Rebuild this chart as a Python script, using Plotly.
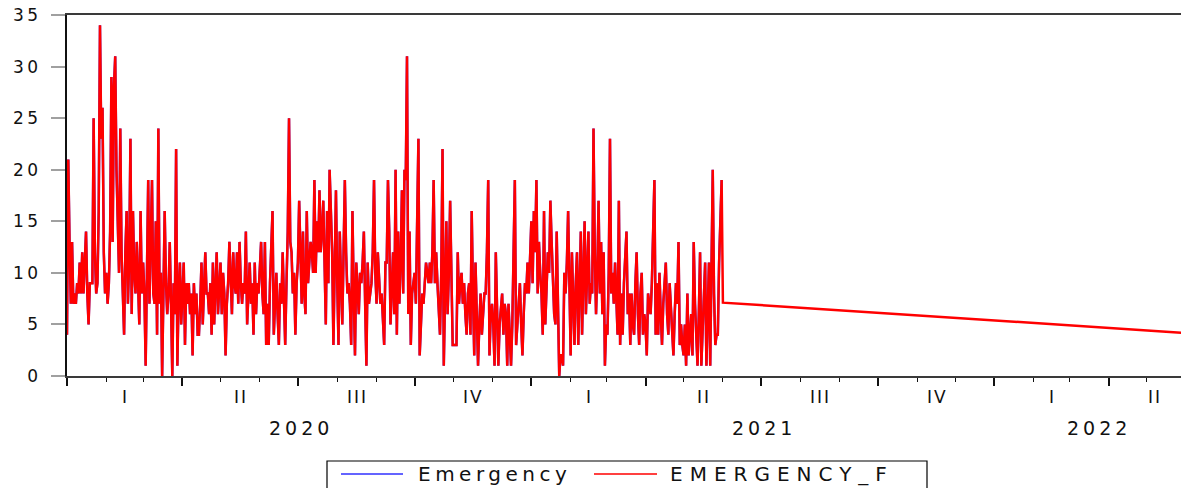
import datetime as dt
import plotly.graph_objects as go

# ---------------- data ----------------
start_date = "2020-01-01"
emergency = [
    4, 21, 13, 7, 13, 7, 8, 7, 9, 8,
    11, 8, 12, 8, 11, 14, 8, 5, 9, 9,
    9, 25, 12, 8, 9, 16, 34, 23, 26, 12,
    8, 10, 7, 9, 14, 29, 13, 28, 31, 20,
    13, 10, 24, 12, 8, 4, 12, 16, 7, 11,
    23, 6, 16, 10, 8, 13, 9, 5, 16, 8,
    11, 8, 1, 10, 19, 7, 12, 19, 8, 7,
    15, 4, 24, 7, 10, 0, 8, 16, 9, 6,
    8, 13, 7, 0, 9, 6, 22, 1, 8, 11,
    5, 9, 11, 3, 9, 7, 9, 6, 8, 2,
    9, 6, 8, 4, 4, 7, 11, 5, 8, 12,
    8, 8, 6, 9, 4, 11, 5, 8, 12, 6,
    9, 11, 6, 10, 8, 2, 7, 9, 13, 9,
    6, 12, 9, 8, 12, 7, 13, 9, 7, 9,
    8, 14, 5, 8, 11, 7, 9, 4, 11, 6,
    9, 8, 10, 13, 8, 6, 13, 3, 7, 3,
    9, 12, 16, 4, 8, 10, 6, 3, 9, 7,
    12, 8, 3, 9, 14, 25, 13, 12, 8, 10,
    4, 9, 11, 17, 10, 7, 14, 8, 6, 16,
    9, 11, 13, 12, 10, 19, 10, 15, 12, 18,
    12, 14, 17, 11, 5, 16, 9, 20, 15, 12,
    3, 10, 18, 9, 3, 14, 10, 5, 12, 19,
    12, 8, 9, 7, 3, 16, 8, 2, 11, 8,
    6, 10, 9, 11, 14, 7, 1, 11, 7, 8,
    9, 12, 19, 10, 7, 12, 9, 7, 8, 6,
    3, 11, 11, 19, 14, 5, 9, 12, 6, 20,
    4, 14, 7, 11, 18, 8, 20, 19, 31, 6,
    14, 3, 8, 9, 10, 7, 15, 23, 2, 6,
    8, 7, 9, 11, 10, 9, 11, 9, 12, 19,
    9, 12, 9, 7, 4, 10, 22, 1, 8, 15,
    6, 10, 17, 8, 3, 3, 3, 3, 12, 7,
    9, 10, 7, 9, 6, 4, 8, 9, 4, 16,
    8, 2, 11, 6, 1, 5, 8, 4, 6, 8,
    8, 12, 19, 2, 6, 7, 5, 1, 12, 6,
    1, 5, 7, 8, 4, 7, 6, 1, 7, 4,
    1, 5, 11, 19, 3, 5, 7, 9, 5, 2,
    6, 9, 8, 11, 8, 12, 15, 9, 16, 12,
    19, 8, 13, 10, 8, 4, 16, 5, 9, 12,
    10, 17, 13, 9, 6, 5, 14, 7, 0, 2,
    2, 1, 10, 8, 11, 16, 7, 2, 12, 8,
    3, 9, 12, 3, 8, 14, 4, 9, 15, 6,
    10, 14, 7, 9, 8, 24, 12, 6, 10, 17,
    8, 13, 6, 12, 1, 5, 4, 10, 23, 8,
    10, 7, 11, 8, 4, 17, 3, 8, 4, 9,
    12, 14, 6, 8, 3, 8, 5, 4, 9, 12,
    6, 3, 8, 10, 4, 6, 5, 2, 8, 7,
    6, 9, 13, 19, 4, 9, 4, 10, 6, 3,
    7, 9, 11, 6, 4, 9, 7, 5, 2, 6,
    9, 7, 13, 3, 5, 3, 2, 5, 1, 8,
    2, 4, 6, 2, 13, 7, 3, 1, 6, 12,
    1, 4, 8, 11, 1, 6, 11, 1, 9, 20,
    8, 3, 4, 4, 11, 16, 19,
]

forecast_dates = [
    "2021-06-01", "2021-07-01", "2021-08-01", "2021-09-01", "2021-10-01",
    "2021-11-01", "2021-12-01", "2022-01-01", "2022-02-01", "2022-03-01",
    "2022-04-01", "2022-05-01", "2022-06-01", "2022-06-12",
]
forecast_values = [
    7.11, 6.87, 6.62, 6.37, 6.13,
    5.88, 5.63, 5.38, 5.13, 4.91,
    4.66, 4.41, 4.16, 4.08,
]

y_tick_values = [0, 5, 10, 15, 20, 25, 30, 35]
y_tick_labels = ["0", "5", "10", "15", "20", "25", "30", "35"]
quarter_labels = ["I", "II", "III", "IV"]
year_labels = ["2020", "2021", "2022"]
series_names = ["Emergency", "EMERGENCY_F"]

# ---------------- layout constants ----------------
FIG_W, FIG_H = 1181, 488
M_L, M_R, M_T, M_B = 67, 0, 15, 112
PW = FIG_W - M_L - M_R
PH = FIG_H - M_T - M_B
FONT = "DejaVu Sans"
AXIS_START = dt.date(2020, 1, 1)
AXIS_VIEW_END = dt.datetime(2022, 5, 28, 2)
SAMPLE_END = dt.date(2022, 6, 12)   # end of the (partially visible) workfile range


def spaced(text, px):
    return f'<span style="letter-spacing:{px}px">{text}</span>'


def px_x(px):
    return (px - M_L) / PW


def px_y(py):
    return (FIG_H - M_B - py) / PH


d0 = dt.date.fromisoformat(start_date)
dates = [d0 + dt.timedelta(days=i) for i in range(len(emergency))]

fig = go.Figure()
fig.add_trace(go.Scatter(
    x=dates, y=emergency, mode="lines", name=series_names[0],
    line=dict(color="#3030ff", width=2.4), showlegend=False,
))
fig.add_trace(go.Scatter(
    x=dates + [dt.date.fromisoformat(d) for d in forecast_dates],
    y=emergency + forecast_values, mode="lines", name=series_names[1],
    line=dict(color="#ff0000", width=2.5), showlegend=False,
))

annotations = []
# quarter labels
qstarts = []
y, m = 2020, 1
while dt.date(y, m, 1) < SAMPLE_END:
    qstarts.append(dt.date(y, m, 1))
    m += 3
    if m > 12:
        m -= 12
        y += 1
for qs in qstarts:
    qe_m = qs.month + 3
    qe = dt.date(qs.year + (qe_m > 12), (qe_m - 1) % 12 + 1, 1)
    qe = min(qe, SAMPLE_END)
    mid = qs + (qe - qs) / 2
    label = quarter_labels[(qs.month - 1) // 3]
    annotations.append(dict(
        x=mid, y=px_y(397), xref="x", yref="paper", showarrow=False,
        text=spaced(label, 2), xshift=1, yanchor="middle", xanchor="center",
        font=dict(family=FONT, size=17, color="#111111"),
    ))
for i, lab in enumerate(year_labels):
    ys = dt.date(int(lab), 1, 1)
    ye = min(dt.date(int(lab) + 1, 1, 1), SAMPLE_END)
    mid = ys + (ye - ys) / 2
    annotations.append(dict(
        x=mid, y=px_y(428), xref="x", yref="paper", showarrow=False,
        text=spaced(lab, 4), xshift=2, yanchor="middle", xanchor="center",
        font=dict(family=FONT, size=19, color="#111111"),
    ))

# legend (drawn box)
shapes = [
    dict(type="rect", xref="paper", yref="paper",
         x0=px_x(327), x1=px_x(927), y0=px_y(520), y1=px_y(461),
         line=dict(color="#000000", width=1.2), fillcolor="rgba(0,0,0,0)"),
    dict(type="line", xref="paper", yref="paper",
         x0=px_x(341), x1=px_x(403), y0=px_y(474), y1=px_y(474),
         line=dict(color="#3030ff", width=1.5)),
    dict(type="line", xref="paper", yref="paper",
         x0=px_x(594), x1=px_x(657), y0=px_y(474), y1=px_y(474),
         line=dict(color="#ff0000", width=1.5)),
]
annotations.append(dict(
    x=px_x(416), y=px_y(474), xref="paper", yref="paper", showarrow=False,
    text=spaced(series_names[0], 4.5), xanchor="left", yanchor="middle",
    font=dict(family=FONT, size=20, color="#111111"),
))
annotations.append(dict(
    x=px_x(668), y=px_y(474), xref="paper", yref="paper", showarrow=False,
    text=spaced(series_names[1], 7), xanchor="left", yanchor="middle",
    font=dict(family=FONT, size=20, color="#111111"),
))

fig.update_layout(
    width=FIG_W, height=FIG_H,
    margin=dict(l=M_L, r=M_R, t=M_T, b=M_B, autoexpand=False),
    paper_bgcolor="white", plot_bgcolor="white",
    showlegend=False,
    annotations=annotations, shapes=shapes,
    xaxis=dict(
        type="date", range=[AXIS_START, AXIS_VIEW_END],
        showgrid=False, zeroline=False,
        showline=True, linecolor="#3a3a3a", linewidth=2, mirror=True,
        ticks="outside", tickmode="linear", tick0="2020-01-01", dtick="M3",
        ticklen=8, tickwidth=1.5, tickcolor="#111111",
        showticklabels=False,
        minor=dict(ticks="outside", dtick="M1", tick0="2020-01-01",
                   ticklen=4, tickwidth=1.2, tickcolor="#111111", showgrid=False),
    ),
    yaxis=dict(
        range=[0, 35], showgrid=False, zeroline=False,
        showline=True, linecolor="#111111", linewidth=2, mirror=False,
        ticks="outside", ticklen=14, tickwidth=2, tickcolor="#a0a0a0",
        tickmode="array", tickvals=y_tick_values,
        ticktext=[spaced(t, 3.5) for t in y_tick_labels],
        ticklabelstandoff=6,
        tickfont=dict(family=FONT, size=17, color="#111111"),
    ),
)

fig.write_html(
    "out.html",
    config={"displayModeBar": False},
    post_script="document.body.style.margin='0px';document.body.style.padding='0px';",
)
